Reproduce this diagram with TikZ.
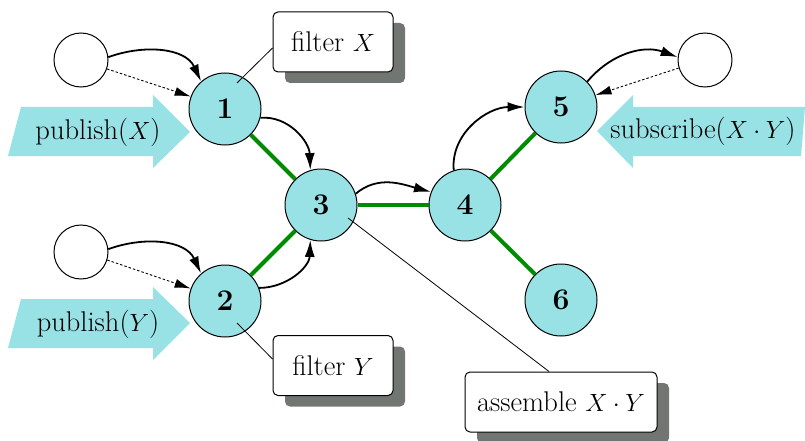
\documentclass[tikz,border=0pt]{standalone}
\usetikzlibrary{arrows.meta,shadows}
\definecolor{nodecyan}{RGB}{152,226,230}
\definecolor{shadowgray}{RGB}{114,118,114}
\definecolor{edgegreen}{RGB}{0,140,0}
\begin{document}
\begin{tikzpicture}[x=1pt,y=1pt,
  font=\fontsize{28.5}{32}\selectfont,
  peer/.style={circle,draw,line width=1pt,fill=nodecyan,minimum size=72pt,inner sep=0pt,font=\fontsize{30}{32}\selectfont\bfseries},
  client/.style={circle,draw,line width=1pt,fill=white,minimum size=54pt,inner sep=0pt},
  tree/.style={edgegreen,line width=4pt},
  flow/.style={line width=1.8pt,-{Latex[length=17pt,width=10pt]}},
  hint/.style={line width=0.9pt,dash pattern=on 2.5pt off 2pt,-{Latex[length=16pt,width=9pt]}},
  note/.style={draw,line width=1pt,rounded corners=5pt,fill=white,minimum height=60pt,inner sep=4pt,
    drop shadow={shadow xshift=12pt,shadow yshift=-11pt,fill=shadowgray,opacity=1}},
  callout/.style={line width=0.8pt},
  bigarrow/.style={fill=nodecyan},
  arrowtext/.style={inner sep=0pt}
]
\useasboundingbox (0,-441) rectangle (805,0);

% block arrows
\fill[bigarrow] (21,-107) -- (153,-107) -- (153,-95) -- (190,-132) -- (153,-168) -- (153,-156) -- (8,-156) -- cycle;
\fill[bigarrow] (21,-299) -- (153,-299) -- (153,-287) -- (190,-323) -- (153,-360) -- (153,-348) -- (8,-348) -- cycle;
\fill[bigarrow] (597,-131) -- (633,-95) -- (633,-107) -- (805,-107) -- (801,-156) -- (633,-156) -- (633,-168) -- cycle;
\node[arrowtext] (pubx) at (98,-132) {publish($X$)};
\node[arrowtext] (puby) at (98,-324) {publish($Y$)};
\node[arrowtext] (subxy) at (703,-131) {subscribe($X\cdot Y$)};

% peers
\node[peer] (n1) at (225,-109) {1};
\node[peer] (n2) at (225,-301) {2};
\node[peer] (n3) at (321,-205) {3};
\node[peer] (n4) at (465,-205) {4};
\node[peer] (n5) at (561,-107) {5};
\node[peer] (n6) at (561,-300) {6};

% clients
\node[client] (c1) at (81,-60) {};
\node[client] (c2) at (81,-252) {};
\node[client] (c3) at (705,-60) {};

% tree edges
\draw[tree] (n1) -- (n3);
\draw[tree] (n2) -- (n3);
\draw[tree] (n3) -- (n4);
\draw[tree] (n4) -- (n5);
\draw[tree] (n4) -- (n6);

% flows
\draw[flow] (c1.6) to[out=20,in=115] (n1.131);
\draw[hint] (c1.-19) -- (n1.160);
\draw[flow] (c2.6) to[out=20,in=115] (n2.131);
\draw[hint] (c2.-17) -- (n2.160);
\draw[flow] (n1.-14) to[out=5,in=92] (n3.107);
\draw[flow] (n2.21) to[out=0,in=-92] (n3.-107);
\draw[flow] (n3.18) to[out=40,in=165] (n4.159);
\draw[flow] (n4.108) to[out=95,in=180] (n5.180);
\draw[flow] (n5.44) to[out=50,in=160] (c3.174);
\draw[hint] (c3.197) -- (n5.19);

% notes
\node[note,minimum width=120pt] (fx) at (333,-42) {filter $X$};
\node[note,minimum width=120pt] (fy) at (333,-365.5) {filter $Y$};
\node[note,minimum width=192pt] (as) at (561,-402) {assemble $X\cdot Y$};

\coordinate (p1) at (237,-83);
\coordinate (p2) at (237,-323);
\coordinate (p3) at (348,-218);
\draw[callout] (p1) -- ([yshift=-6pt]fx.west);
\draw[callout] (p2) -- ([yshift=6.5pt]fy.west);
\draw[callout] (p3) -- ([xshift=-12pt]as.north);
\end{tikzpicture}
\end{document}
